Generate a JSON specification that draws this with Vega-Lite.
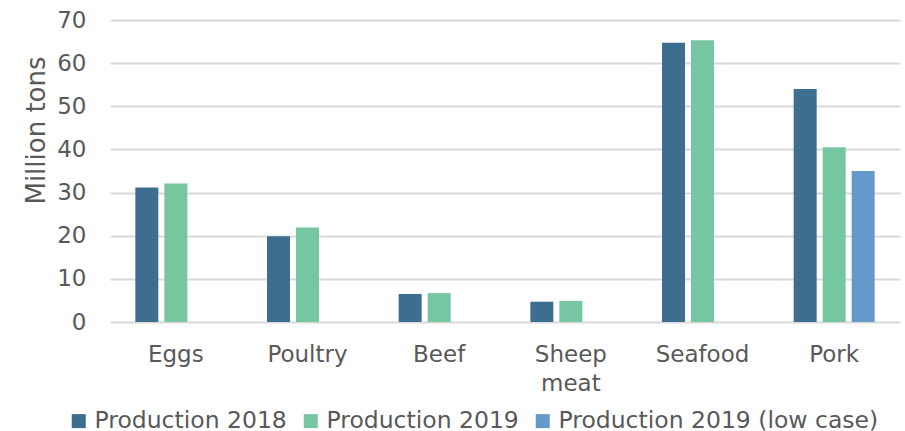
{
  "$schema": "https://vega.github.io/schema/vega-lite/v6.json",
  "width": 790,
  "height": 302,
  "autosize": "none",
  "padding": {"left": 110, "top": 20, "right": 5, "bottom": 109},
  "background": "white",
  "data": {
    "values": [
      {"category": "Eggs", "series": "Production 2018", "value": 31.2},
      {"category": "Eggs", "series": "Production 2019", "value": 32.1},
      {"category": "Poultry", "series": "Production 2018", "value": 19.9},
      {"category": "Poultry", "series": "Production 2019", "value": 21.9},
      {"category": "Beef", "series": "Production 2018", "value": 6.5},
      {"category": "Beef", "series": "Production 2019", "value": 6.7},
      {"category": "Sheep meat", "series": "Production 2018", "value": 4.7},
      {"category": "Sheep meat", "series": "Production 2019", "value": 4.9},
      {"category": "Seafood", "series": "Production 2018", "value": 64.7},
      {"category": "Seafood", "series": "Production 2019", "value": 65.3},
      {"category": "Pork", "series": "Production 2018", "value": 54.0},
      {"category": "Pork", "series": "Production 2019", "value": 40.5},
      {"category": "Pork", "series": "Production 2019 (low case)", "value": 35.0}
    ]
  },
  "mark": {"type": "bar"},
  "encoding": {
    "x": {
      "field": "category",
      "type": "nominal",
      "sort": ["Eggs", "Poultry", "Beef", "Sheep meat", "Seafood", "Pork"],
      "scale": {"paddingInner": 0.385, "paddingOuter": 0.1925},
      "axis": {
        "title": null,
        "labelAngle": 0,
        "labelFont": "DejaVu Sans",
        "labelFontSize": 23,
        "labelColor": "#595959",
        "labelPadding": 21,
        "labelLineHeight": 29,
        "labelExpr": "split(datum.label, ' ')",
        "ticks": false,
        "tickSize": 0,
        "domain": false,
        "grid": false
      }
    },
    "xOffset": {
      "field": "series",
      "type": "nominal",
      "sort": ["Production 2018", "Production 2019", "Production 2019 (low case)"],
      "scale": {"paddingInner": 0.207, "paddingOuter": 0}
    },
    "y": {
      "field": "value",
      "type": "quantitative",
      "scale": {"domain": [0, 70], "nice": false},
      "axis": {
        "title": "Million tons",
        "values": [0, 10, 20, 30, 40, 50, 60, 70],
        "labelFont": "DejaVu Sans",
        "labelFontSize": 23,
        "labelColor": "#595959",
        "labelPadding": 24,
        "titleFont": "DejaVu Sans",
        "titleFontSize": 26,
        "titleFontWeight": "normal",
        "titleColor": "#595959",
        "titleAngle": -90,
        "titleAlign": "center",
        "titleBaseline": "alphabetic",
        "titleX": -66,
        "titleY": 110,
        "ticks": false,
        "tickSize": 0,
        "domain": false,
        "grid": true,
        "gridColor": "#d9d9d9",
        "gridWidth": 1.8
      }
    },
    "color": {
      "field": "series",
      "type": "nominal",
      "scale": {
        "domain": ["Production 2018", "Production 2019", "Production 2019 (low case)"],
        "range": ["#3d6e8f", "#76c7a1", "#6699cb"]
      },
      "legend": {
        "title": null,
        "orient": "none",
        "direction": "horizontal",
        "legendX": -43,
        "legendY": 389,
        "symbolType": "square",
        "symbolSize": 196,
        "symbolStrokeWidth": 0,
        "labelFont": "DejaVu Sans",
        "labelFontSize": 23.5,
        "labelColor": "#595959",
        "labelOffset": 4,
        "columnPadding": 12,
        "labelLimit": 500
      }
    }
  },
  "config": {"view": {"stroke": null}}
}
